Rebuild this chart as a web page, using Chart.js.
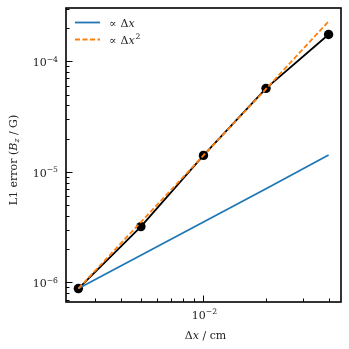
<!DOCTYPE html>
<html>
<head>
<meta charset="utf-8">
<script src="https://cdn.jsdelivr.net/npm/chart.js@4/dist/chart.umd.min.js"></script>
<style>
  html, body { margin: 0; padding: 0; background: #fff; }
  .chart-container { position: relative; width: 349px; height: 349px; }
</style>
</head>
<body>
<div class="chart-container"><canvas id="convChart" width="349" height="349"></canvas></div>
<script>
// grid spacing (cm) and measured error
const dx = [0.0025, 0.005, 0.01, 0.02, 0.04];
const l1Error = [8.8e-7, 3.2e-6, 1.41e-5, 5.7e-5, 1.75e-4];
// reference slopes
const refLinear = [8.8e-7, 1.76e-6, 3.52e-6, 7.04e-6, 1.42e-5];
const refQuadratic = [8.8e-7, 3.52e-6, 1.41e-5, 5.63e-5, 2.3e-4];
// axis limits and labelled ticks (value, exponent)
const xLimits = [0.00218, 0.0459];
const yLimits = [6.65e-7, 3.04e-4];
const xTickValues = [0.01];
const xTickExps = ['\u22122'];
const yTickValues = [1e-6, 1e-5, 1e-4];
const yTickExps = ['\u22126', '\u22125', '\u22124'];

const serif = '"DejaVu Serif", serif';
const FS = 11;

function pts(ys) {
    return dx.map((x, i) => ({ x: x, y: ys[i] }));
}

// draw text made of plain / italic / sub / sup pieces
function drawRich(ctx, segs, x, y, size, align) {
    const fontFor = (s) => {
        const sz = (s.sub || s.sup) ? size * 0.7 : size;
        return (s.it ? 'italic ' : '') + sz + 'px ' + serif;
    };
    let total = 0;
    segs.forEach(s => { ctx.font = fontFor(s); total += ctx.measureText(s.t).width + (s.gap || 0); });
    let cx = x;
    if (align === 'center') cx = x - total / 2;
    if (align === 'right') cx = x - total;
    ctx.textBaseline = 'alphabetic';
    ctx.textAlign = 'left';
    segs.forEach(s => {
        ctx.font = fontFor(s);
        let dy = 0;
        if (s.sub) dy = size * 0.22;
        if (s.sup) dy = -size * 0.42;
        ctx.fillText(s.t, cx, y + dy);
        cx += ctx.measureText(s.t).width + (s.gap || 0);
    });
}

function decadeMinors(min, max) {
    const out = [];
    for (let e = Math.floor(Math.log10(min)); e <= Math.ceil(Math.log10(max)); e++) {
        for (let m = 1; m <= 9; m++) {
            const v = m * Math.pow(10, e);
            if (v >= min && v <= max) out.push({ v: v, major: m === 1 });
        }
    }
    return out;
}

const framePlugin = {
    id: 'frame',
    afterDraw(chart) {
        const ctx = chart.ctx;
        const a = chart.chartArea;
        const xs = chart.scales.x, ys = chart.scales.y;
        ctx.save();
        ctx.strokeStyle = '#000';
        // tick marks pointing inward
        ctx.lineWidth = 1;
        decadeMinors(xLimits[0], xLimits[1]).forEach(t => {
            const px = Math.round(xs.getPixelForValue(t.v)) + 0.5;
            const len = t.major ? 6.5 : 3.5;
            ctx.beginPath();
            ctx.moveTo(px, a.bottom);
            ctx.lineTo(px, a.bottom - len);
            ctx.stroke();
        });
        decadeMinors(yLimits[0], yLimits[1]).forEach(t => {
            const py = Math.round(ys.getPixelForValue(t.v)) + 0.5;
            const len = t.major ? 6.5 : 3.5;
            ctx.beginPath();
            ctx.moveTo(a.left, py);
            ctx.lineTo(a.left + len, py);
            ctx.stroke();
        });
        ctx.lineWidth = 1.6;
        ctx.strokeRect(a.left, a.top, a.right - a.left, a.bottom - a.top);

        ctx.fillStyle = '#222';
        // tick labels
        xTickValues.forEach((v, i) => {
            drawRich(ctx, [{ t: '10' }, { t: xTickExps[i], sup: true }], xs.getPixelForValue(v) + 1, 319, FS, 'center');
        });
        yTickValues.forEach((v, i) => {
            drawRich(ctx, [{ t: '10' }, { t: yTickExps[i], sup: true }], a.left - 8, ys.getPixelForValue(v) + 5, FS, 'right');
        });

        // legend
        ctx.lineWidth = 1.8;
        ctx.strokeStyle = '#1f77b4';
        ctx.beginPath(); ctx.moveTo(75, 22.5); ctx.lineTo(100, 22.5); ctx.stroke();
        ctx.strokeStyle = '#ff7f0e';
        ctx.setLineDash([5, 2.5]);
        ctx.beginPath(); ctx.moveTo(75, 39.5); ctx.lineTo(100, 39.5); ctx.stroke();
        ctx.setLineDash([]);
        drawRich(ctx, [{ t: '\u221D', gap: 4 }, { t: '\u0394' }, { t: 'x', it: true }], 109, 26.5, FS, 'left');
        drawRich(ctx, [{ t: '\u221D', gap: 4 }, { t: '\u0394' }, { t: 'x', it: true, gap: 1 }, { t: '2', sup: true }], 109, 43.5, FS, 'left');

        // axis titles
        drawRich(ctx, [{ t: '\u0394' }, { t: 'x', it: true }, { t: ' / cm' }], (a.left + a.right) / 2 + 2, 339, FS, 'center');
        ctx.translate(17, 160);
        ctx.rotate(-Math.PI / 2);
        drawRich(ctx, [{ t: 'L1 error (' }, { t: 'B', it: true }, { t: 'z', it: true, sub: true }, { t: ' / G)' }], 0, 0, FS, 'center');
        ctx.restore();
    }
};

const chart = new Chart(document.getElementById('convChart').getContext('2d'), {
    type: 'line',
    data: {
        datasets: [
            {
                label: '\u221D \u0394x\u00B2',
                data: pts(refQuadratic),
                borderColor: '#ff7f0e',
                borderWidth: 1.8,
                borderDash: [5, 2.5],
                pointRadius: 0,
                fill: false
            },
            {
                label: '\u221D \u0394x',
                data: pts(refLinear),
                borderColor: '#1f77b4',
                borderWidth: 1.8,
                pointRadius: 0,
                fill: false
            },
            {
                label: 'L1 error',
                data: pts(l1Error),
                borderColor: '#000',
                backgroundColor: '#000',
                borderWidth: 1.8,
                pointRadius: 4.7,
                pointBorderWidth: 0,
                fill: false
            }
        ]
    },
    options: {
        responsive: false,
        animation: false,
        layout: { padding: { top: 8, right: 8, left: 0, bottom: 0 } },
        scales: {
            x: {
                type: 'logarithmic',
                min: xLimits[0],
                max: xLimits[1],
                grid: { display: false },
                border: { display: false },
                ticks: { display: false },
                afterFit: (scale) => { scale.height = 47; }
            },
            y: {
                type: 'logarithmic',
                min: yLimits[0],
                max: yLimits[1],
                grid: { display: false },
                border: { display: false },
                ticks: { display: false },
                afterFit: (scale) => { scale.width = 66; }
            }
        },
        plugins: {
            legend: { display: false },
            tooltip: { enabled: false }
        }
    },
    plugins: [framePlugin]
});
</script>
</body>
</html>
